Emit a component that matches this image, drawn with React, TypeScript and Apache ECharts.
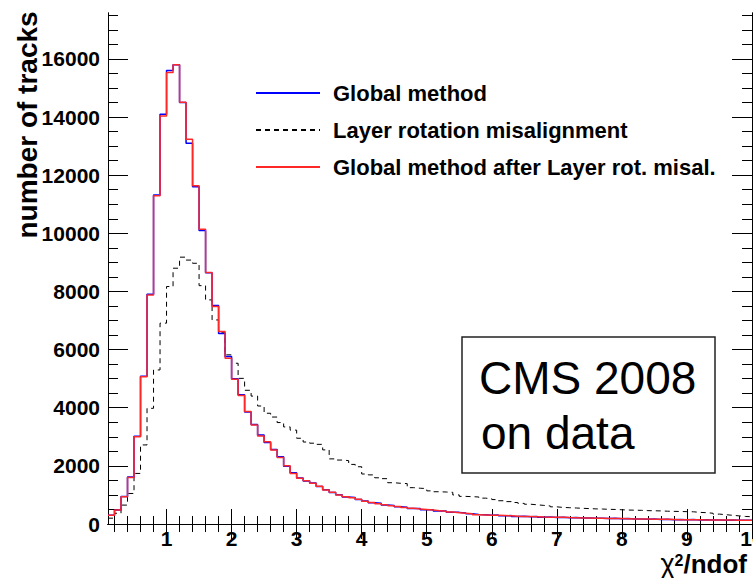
import React, { useEffect, useRef } from "react";
import * as echarts from "echarts";

// Histogram binning: 99 bins of width 0.1 from 0.1 to 10.0
const binStart = 0.1;
const binWidth = 0.1;

// "Global method" (blue)
const globalMethod = [
  300, 480, 950, 1620, 3020, 5080, 7900, 11320, 14100, 15600,
  15800, 14500, 13100, 11600, 10100, 8640, 7520, 6550, 5760, 5000,
  4450, 3850, 3420, 3060, 2800, 2560, 2310, 1990, 1760, 1580,
  1480, 1410, 1290, 1180, 1080, 1010, 930, 910, 840, 790,
  730, 710, 650, 640, 590, 580, 530, 530, 490, 490,
  450, 450, 400, 400, 380, 350, 330, 320, 300, 310,
  280, 290, 260, 270, 250, 260, 235, 245, 225, 235,
  215, 220, 205, 210, 195, 200, 185, 195, 180, 185,
  170, 175, 165, 170, 155, 165, 150, 158, 145, 152,
  140, 145, 135, 140, 130, 138, 128, 132, 128,
];

// "Layer rotation misalignment" (black dashed)
const layerRotation = [
  200, 370, 650, 1050, 1740, 2720, 3980, 5300, 6910, 8170,
  8800, 9180, 9080, 8970, 8200, 7710, 7020, 6580, 5820, 5530,
  5010, 4600, 4400, 4060, 3810, 3680, 3490, 3340, 3230, 2950,
  2820, 2780, 2740, 2550, 2240, 2200, 2180, 2050, 1970, 1720,
  1690, 1590, 1560, 1420, 1400, 1390, 1250, 1230, 1220, 1140,
  1110, 1100, 1090, 1000, 950, 940, 930, 890, 870, 840,
  800, 770, 740, 710, 680, 660, 640, 620, 590, 570,
  560, 550, 540, 530, 520, 515, 505, 500, 490, 480,
  475, 470, 460, 455, 450, 440, 435, 430, 425, 420,
  400, 390, 370, 340, 320, 300, 280, 260, 250,
];

// "Global method after Layer rot. misal." (red)
const globalAfter = [
  300, 480, 940, 1600, 3000, 5070, 7880, 11290, 14040, 15530,
  15800, 14510, 13240, 11640, 10140, 8650, 7480, 6620, 5700, 4980,
  4420, 3870, 3410, 3030, 2830, 2550, 2290, 2000, 1740, 1570,
  1490, 1400, 1300, 1170, 1090, 1000, 940, 900, 850, 780,
  740, 700, 660, 630, 600, 570, 540, 520, 500, 480,
  460, 440, 410, 390, 370, 350, 320, 310, 300, 300,
  290, 280, 270, 260, 255, 250, 240, 235, 230, 230,
  220, 215, 210, 205, 200, 195, 190, 190, 185, 180,
  175, 170, 170, 165, 160, 160, 155, 150, 150, 148,
  145, 140, 140, 138, 135, 135, 132, 130, 130,
];

const xMin = 0.1;
const xMax = 10;
const yMin = 0;
const yMax = 17580;
const xTickLabels = [1, 2, 3, 4, 5, 6, 7, 8, 9, 10];
const xMinorTicks = [
  0.2, 0.4, 0.6, 0.8, 1.2, 1.4, 1.6, 1.8, 2.2, 2.4, 2.6, 2.8, 3.2, 3.4, 3.6, 3.8,
  4.2, 4.4, 4.6, 4.8, 5.2, 5.4, 5.6, 5.8, 6.2, 6.4, 6.6, 6.8, 7.2, 7.4, 7.6, 7.8,
  8.2, 8.4, 8.6, 8.8, 9.2, 9.4, 9.6, 9.8,
];
const yTickLabels = [0, 2000, 4000, 6000, 8000, 10000, 12000, 14000, 16000];
const yMinorTicks = [
  500, 1000, 1500, 2500, 3000, 3500, 4500, 5000, 5500, 6500, 7000, 7500,
  8500, 9000, 9500, 10500, 11000, 11500, 12500, 13000, 13500, 14500, 15000,
  15500, 16500, 17000, 17500,
];

const seriesNames = [
  "Global method",
  "Layer rotation misalignment",
  "Global method after Layer rot. misal.",
];

const FONT = '"Liberation Sans", Arial, Helvetica, sans-serif';

function steps(values: number[]): number[][] {
  const pts: number[][] = [];
  values.forEach((v, i) => {
    const lo = +(binStart + i * binWidth).toFixed(2);
    const hi = +(lo + binWidth).toFixed(2);
    pts.push([lo, v], [hi, v]);
  });
  return pts;
}

function tickAxis(kind: "x" | "y", position: string, values: number[], length: number, labels: boolean): any {
  const isX = kind === "x";
  const labelStyle: any = {
    show: true,
    customValues: values,
    formatter: (v: number) => String(v),
    fontFamily: FONT,
    fontWeight: "bold",
    fontSize: 21,
    color: "#000",
    margin: isX ? 4 : 8,
    hideOverlap: false,
  };
  if (isX) {
    labelStyle.alignMaxLabel = "center";
    labelStyle.alignMinLabel = "center";
  }
  return {
    type: "value",
    position,
    min: isX ? xMin : yMin,
    max: isX ? xMax : yMax,
    axisLine: { show: true, lineStyle: { color: "#000", width: 1 } },
    axisTick: {
      show: true,
      inside: true,
      length,
      customValues: values,
      lineStyle: { color: "#000", width: 1 },
    },
    axisLabel: labels ? labelStyle : { show: false },
    splitLine: { show: false },
    minorTick: { show: false },
    minorSplitLine: { show: false },
  };
}

export default function App() {
  const ref = useRef<HTMLDivElement>(null);

  useEffect(() => {
    if (!ref.current) return;
    const chart = echarts.init(ref.current, null, { renderer: "svg" });
    const option: any = {
      animation: false,
      backgroundColor: "#fff",
      grid: {
        left: 108,
        right: 1,
        top: 13,
        bottom: 54,
        containLabel: false,
        outerBoundsMode: "none",
      },
      xAxis: [
        tickAxis("x", "bottom", xTickLabels, 15, true),
        tickAxis("x", "bottom", xMinorTicks, 8, false),
        tickAxis("x", "top", xTickLabels, 15, false),
        tickAxis("x", "top", xMinorTicks, 8, false),
      ],
      yAxis: [
        tickAxis("y", "left", yTickLabels, 20, true),
        tickAxis("y", "left", yMinorTicks, 10, false),
        tickAxis("y", "right", yTickLabels, 20, false),
        tickAxis("y", "right", yMinorTicks, 10, false),
      ],
      legend: {
        orient: "vertical",
        left: 250,
        top: 77,
        itemWidth: 64,
        itemHeight: 14,
        itemGap: 15,
        selectedMode: false,
        itemStyle: { opacity: 0, borderWidth: 0 },
        textStyle: {
          fontFamily: FONT,
          fontWeight: "bold",
          fontSize: 22,
          color: "#000",
          padding: [0, 0, 0, 8],
        },
        data: seriesNames,
      },
      series: [
        {
          name: seriesNames[1],
          type: "line",
          xAxisIndex: 0,
          yAxisIndex: 0,
          data: steps(layerRotation),
          symbol: "none",
          showSymbol: false,
          lineStyle: { color: "#000", width: 1, type: [5, 4] },
          itemStyle: { color: "#000" },
          z: 2,
        },
        {
          name: seriesNames[0],
          type: "line",
          xAxisIndex: 0,
          yAxisIndex: 0,
          data: steps(globalMethod),
          symbol: "none",
          showSymbol: false,
          lineStyle: { color: "#0000ff", width: 1.5 },
          itemStyle: { color: "#0000ff" },
          z: 3,
        },
        {
          name: seriesNames[2],
          type: "line",
          xAxisIndex: 0,
          yAxisIndex: 0,
          data: steps(globalAfter),
          symbol: "none",
          showSymbol: false,
          lineStyle: { color: "#ff2828", width: 1.5 },
          itemStyle: { color: "#ff2828" },
          z: 4,
        },
      ],
      graphic: [
        {
          type: "text",
          x: 27,
          y: 125,
          rotation: Math.PI / 2,
          style: {
            text: "number of tracks",
            fontFamily: FONT,
            fontWeight: "bold",
            fontSize: 28,
            fill: "#000",
            align: "center",
            verticalAlign: "middle",
          },
        },
        {
          type: "text",
          x: 747,
          y: 576,
          style: {
            text: "{a|χ}{b|2}{c|/ndof}",
            align: "right",
            verticalAlign: "bottom",
            rich: {
              a: { fontFamily: FONT, fontSize: 27, fill: "#000", lineHeight: 24 },
              b: { fontFamily: FONT, fontSize: 16, fontWeight: "bold", fill: "#000", lineHeight: 24, verticalAlign: "top" },
              c: { fontFamily: FONT, fontSize: 26, fontWeight: "bold", fill: "#000", lineHeight: 24 },
            },
          },
        },
        {
          type: "rect",
          shape: { x: 462, y: 337, width: 253, height: 136 },
          style: { fill: "#fff", stroke: "#222", lineWidth: 1.5 },
          z: 10,
        },
        {
          type: "text",
          x: 479,
          y: 378,
          z: 11,
          style: {
            text: "CMS 2008",
            fontFamily: FONT,
            fontSize: 46,
            fill: "#000",
            verticalAlign: "middle",
          },
        },
        {
          type: "text",
          x: 481,
          y: 433,
          z: 11,
          style: {
            text: "on data",
            fontFamily: FONT,
            fontSize: 46,
            fill: "#000",
            verticalAlign: "middle",
          },
        },
      ],
    };
    chart.setOption(option);
    return () => chart.dispose();
  }, []);

  return (
    <div
      ref={ref}
      style={{ position: "fixed", left: 0, top: 0, width: 753, height: 578, background: "#fff" }}
    />
  );
}
